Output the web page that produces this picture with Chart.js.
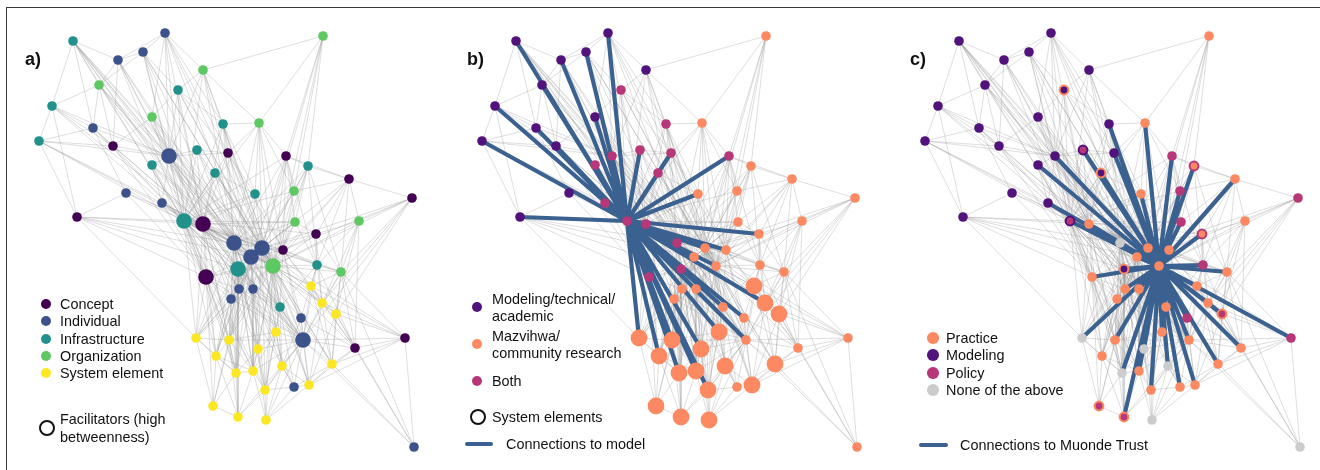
<!DOCTYPE html>
<html>
<head>
<meta charset="utf-8">
<script src="https://cdn.jsdelivr.net/npm/chart.js@4.4.1/dist/chart.umd.min.js"></script>
<style>
  body { margin: 0; background: #fff; font-family: "Liberation Sans", Arial, sans-serif; }
  #wrap { position: relative; width: 1320px; height: 470px; overflow: hidden; background: #fff; }
  #frame { position: absolute; left: 6px; top: 7px; width: 1400px; height: 500px;
           border-left: 1.5px solid #3a3a3a; border-top: 1.5px solid #3a3a3a; }
  canvas { position: absolute; top: 0; }
  .t { position: absolute; font-size: 14.4px; line-height: 17px; color: #111; white-space: nowrap; }
  .lab { position: absolute; font-size: 18px; line-height: 20px; font-weight: bold; color: #111; }
  .mk { position: absolute; border-radius: 50%; box-sizing: border-box; }
  .ln { position: absolute; height: 4px; border-radius: 2px; background: #3a6190; }
</style>
</head>
<body>
<div id="wrap">
  <div id="frame"></div>
  <canvas id="pa" width="443" height="470" style="left:0px"></canvas>
  <canvas id="pb" width="443" height="470" style="left:443px"></canvas>
  <canvas id="pc" width="434" height="470" style="left:886px"></canvas>
</div>
<script>
// node layout (shared by the three panels)
const nodeX = [73,165,143,118,203,99,178,52,152,93,223,39,113,169,197,228,152,215,126,162,
  77,184,203,323,259,286,308,349,412,255,294,295,359,316,234,262,251,283,238,273,
  317,341,239,253,231,206,311,322,336,280,301,303,276,229,258,355,405,196,216,332,
  282,253,236,309,294,265,213,238,266,414];
const nodeY = [41,33,52,60,70,85,90,106,117,128,124,141,146,156,150,153,165,173,193,203,
  217,221,224,36,123,156,166,179,198,194,191,222,221,234,243,248,257,250,269,266,
  265,272,289,289,299,277,286,303,314,307,318,340,332,340,349,348,338,338,356,364,
  366,371,373,385,387,390,406,417,420,447];

// a) node type, facilitators
const typeNames = ['Concept', 'Individual', 'Infrastructure', 'Organization', 'System element'];
const typeA = [2,1,1,1,3,3,2,2,3,1,2,2,0,1,2,0,2,2,1,1,
  0,2,0,3,3,0,2,0,0,2,3,3,3,0,1,1,1,0,2,3,
  2,3,1,1,1,0,4,4,4,2,1,1,4,4,4,0,0,4,4,4,
  4,4,4,4,1,4,4,4,4,1];
const facilitators = [13,21,22,34,35,36,38,39,45,51];

// b) knowledge group; hub = model
const groupNames = ['Modeling/technical/academic', 'Mazvihwa/community research', 'Both'];
const groupB = [0,0,0,0,0,0,2,0,0,0,2,0,0,2,2,2,2,2,0,2,
  0,2,2,1,1,2,1,1,1,1,1,1,1,1,2,1,1,1,2,1,
  1,1,1,1,1,2,1,1,1,1,1,1,1,1,1,1,1,1,1,1,
  1,1,1,1,1,1,1,1,1,1];
const modelNode = 21;
const modelLinks = [0,1,2,3,5,7,8,9,11,12,13,14,15,16,17,19,20,22,25,29,33,34,35,36,37,38,39,
  45,47,49,50,51,52,53,54,57,58,61,62,65];

// c) domain (fill) and second domain (ring, -1 = none); hub = Muonde Trust
const domainNames = ['Practice', 'Modeling', 'Policy', 'None of the above'];
const domainC = [1,1,1,1,1,1,1,1,1,1,1,1,1,1,2,1,1,1,1,1,
  1,2,0,0,0,2,0,0,2,0,2,2,0,0,3,0,0,0,1,0,
  2,0,0,0,0,0,0,0,2,0,2,0,0,0,3,0,2,3,0,0,
  3,0,3,0,0,0,2,2,3,3];
const ringC = [-1,-1,-1,-1,-1,-1,0,-1,-1,-1,-1,-1,-1,-1,1,-1,-1,0,-1,-1,
  -1,1,-1,-1,-1,-1,2,-1,-1,-1,-1,-1,-1,2,-1,-1,-1,-1,0,-1,
  -1,-1,-1,-1,-1,-1,-1,-1,0,-1,-1,-1,-1,-1,-1,-1,-1,-1,-1,-1,
  -1,-1,-1,-1,-1,-1,0,0,-1,-1];
const muondeNode = 39;
const muondeLinks = [10,13,14,15,16,17,19,21,22,24,25,26,27,29,30,31,33,34,35,36,37,38,40,41,
  42,43,45,46,47,48,49,50,51,52,53,54,55,56,57,59,60,61,62,63,64,65,67];

// network ties (neighbour lists)
const links = [
  [3,5,7,9,13,21,22,34,35,36,38,39], [2,3,4,8,10,13,15,21,22,36,39], [3,5,6,13,21,22,34,35,39],
  [5,12,13,21,22,34,36],
  [6,10,13,21,23,24,34,36,39], [7,9,12,13,21,22,34,36], [8,10,13,15,21,22,35,39],
  [9,11,12,13,20,21,22],
  [12,13,21,22,34,39], [11,12,13,18,21,22], [15,21,22,24,34,35,36,37,39], [12,13,20,21,22,34],
  [13,21,22,45], [14,15,16,19,21,22,34,35,36,38,39,45,51], [15,21,22,34,36,39],
  [21,22,24,29,34,35,37,39], [19,21,22,34,39,45], [21,22,29,34,35,39], [20,21,22,45],
  [21,22,34,39,45], [21,22,34,36,38,45,57],
  [22,24,25,29,30,31,33,34,35,36,37,38,39,40,41,42,43,44,45,46,47,49,51,52,53,57,58,61,62,65],
  [29,31,34,35,36,37,38,39,42,43,44,45,51,53,54,57,58,62,64],
  [24,25,26,30,35,39], [25,29,30,34,35,37,39], [26,27,30,31,34,35,36,37,39,40],
  [27,30,31,34,35,37,39,40,41], [28,30,32,33,35,37,39,40,41], [32,35,37,39,41,47,48,51],
  [34,35,36,39], [34,35,36,37,39], [33,34,35,36,37,39,40], [33,39,40,41,47,48,55],
  [35,37,39,40,41,47],
  [35,36,37,38,39,42,43,44,45,49,50,51,52,53,54,57,58,60,61,62,64,65],
  [36,37,38,39,42,43,44,46,47,49,50,51,52,53,54,56,59,60,61,63,65],
  [37,38,39,42,43,44,45,49,51,52,53,54,57,58,61,62,65,66],
  [39,40,41,46,47,49,50,51],
  [39,42,43,44,45,49,51,53,54,57,58,61,62,67],
  [40,41,42,43,44,45,46,47,48,49,50,51,52,53,54,55,57,59,60,61,63,64,65,68],
  [41,46,47,49,50,51,55], [46,47,48,51,55,56,59,69], [45,49,51,53,57,58,62], [49,51,53,54,61,62],
  [45,51,53,57,58,62], [51,53,57,58,61,62,66], [47,48,51,55,56,59], [48,51,55,56,59,63],
  [55,56,59,63,69], [51,52,60,63,65], [51,55,59,60,63],
  [52,53,54,55,56,59,60,61,63,64,65,67,68,69], [53,54,60,61,65], [57,58,61,62,66,67],
  [61,62,65,68], [56,59,63,69], [59,63,69], [58,62,66], [61,62,66,67], [63,64,69], [63,64,65,68],
  [62,65,67,68], [66,67], [64,68], [65,68], [67,68], [67], [], [], []
];

const typeColors = ['#440154', '#3b528b', '#21918c', '#5ec962', '#fde725'];
const groupColors = ['#51127c', '#fc8961', '#b73779'];
const domainColors = ['#fc8961', '#51127c', '#b73779', '#cccccc'];
const tieColor = '#3a6190';

function pt(i) { return { x: nodeX[i], y: nodeY[i] }; }

function greyTies() {
  const out = [];
  links.forEach((nb, i) => nb.forEach(j => {
    out.push(pt(i), pt(j), { x: nodeX[j], y: null });
  }));
  return out;
}

function hubTies(hub, list) {
  const out = [];
  list.forEach(j => out.push(pt(hub), pt(j), { x: nodeX[j], y: null }));
  return out;
}

function panel(id, width, fill, radius, ring, ringW, ties) {
  const nodes = nodeX.map((x, i) => pt(i));
  const chart = new Chart(document.getElementById(id), {
    type: 'scatter',
    data: {
      datasets: [
        { data: nodes, backgroundColor: fill, borderColor: ring, borderWidth: ringW,
          pointRadius: radius, pointHoverRadius: radius, order: 0, clip: false },
        { data: ties, showLine: true, borderColor: tieColor, borderWidth: 4.2, pointRadius: 0,
          spanGaps: false, borderCapStyle: 'round', order: 1, clip: false },
        { data: greyTies(), showLine: true, borderColor: 'rgba(140,140,140,0.42)', borderWidth: 0.7,
          pointRadius: 0, spanGaps: false, order: 2, clip: false }
      ]
    },
    options: {
      responsive: false,
      animation: false,
      events: [],
      layout: { padding: 0 },
      scales: {
        x: { type: 'linear', display: false, min: 0, max: width },
        y: { type: 'linear', display: false, min: 0, max: 470, reverse: true }
      },
      plugins: { legend: { display: false }, tooltip: { enabled: false } }
    }
  });
  // Chart.js pads the plot area for point overflow; set the range so layout units map 1:1
  const ca = chart.chartArea;
  chart.options.scales.x.min = ca.left;
  chart.options.scales.x.max = ca.right;
  chart.options.scales.y.min = ca.top;
  chart.options.scales.y.max = ca.bottom;
  chart.update();
}

// a)
const fillA = typeA.map(t => typeColors[t]);
panel('pa', 443, fillA, nodeX.map((x, i) => facilitators.includes(i) ? 7.8 : 4.8),
  fillA, 0, []);

// b)
const fillB = groupB.map(g => groupColors[g]);
panel('pb', 443, fillB, typeA.map(t => t === 4 ? 8.4 : 4.8), fillB, 0,
  hubTies(modelNode, modelLinks));

// c)
const fillC = domainC.map(d => domainColors[d]);
panel('pc', 434, fillC, ringC.map(r => r >= 0 ? 4.4 : 4.8),
  ringC.map((r, i) => r >= 0 ? domainColors[r] : fillC[i]), ringC.map(r => r >= 0 ? 2 : 0),
  hubTies(muondeNode, muondeLinks));

// labels and legends
const wrap = document.getElementById('wrap');
function text(x, yc, s, cls) {
  const d = document.createElement('div');
  d.className = cls || 't';
  d.textContent = s;
  d.style.left = x + 'px';
  d.style.top = (yc - (cls === 'lab' ? 10 : 8.5)) + 'px';
  wrap.appendChild(d);
}
function dot(x, yc, r, color, outline) {
  const d = document.createElement('div');
  d.className = 'mk';
  d.style.left = (x - r) + 'px';
  d.style.top = (yc - r) + 'px';
  d.style.width = d.style.height = (2 * r) + 'px';
  if (outline) d.style.border = '2px solid #111';
  else d.style.background = color;
  wrap.appendChild(d);
}
function bar(x1, x2, yc) {
  const d = document.createElement('div');
  d.className = 'ln';
  d.style.left = x1 + 'px';
  d.style.top = (yc - 2) + 'px';
  d.style.width = (x2 - x1) + 'px';
  wrap.appendChild(d);
}

text(25, 59, 'a)', 'lab');
text(467, 59, 'b)', 'lab');
text(910, 59, 'c)', 'lab');

const rowsA = [304, 321, 339, 356, 373];
typeNames.forEach((n, i) => { dot(46, rowsA[i], 5, typeColors[i]); text(60, rowsA[i], n); });
dot(46.5, 427.5, 8, null, true);
text(60, 419, 'Facilitators (high');
text(60, 437, 'betweenness)');

dot(477, 307, 5.3, groupColors[0]);
text(492, 299, 'Modeling/technical/');
text(492, 316, 'academic');
dot(477, 344, 5.3, groupColors[1]);
text(492, 336, 'Mazvihwa/');
text(492, 353, 'community research');
dot(477, 381, 5.3, groupColors[2]);
text(492, 381, 'Both');
dot(478, 417, 8, null, true);
text(492, 417, 'System elements');
bar(465, 493, 444);
text(506, 444, 'Connections to model');

const rowsC = [338, 355, 373, 390];
domainNames.forEach((n, i) => { dot(933, rowsC[i], 5.8, domainColors[i]); text(946, rowsC[i], n); });
bar(919, 948, 445);
text(960, 445, 'Connections to Muonde Trust');
</script>
</body>
</html>
